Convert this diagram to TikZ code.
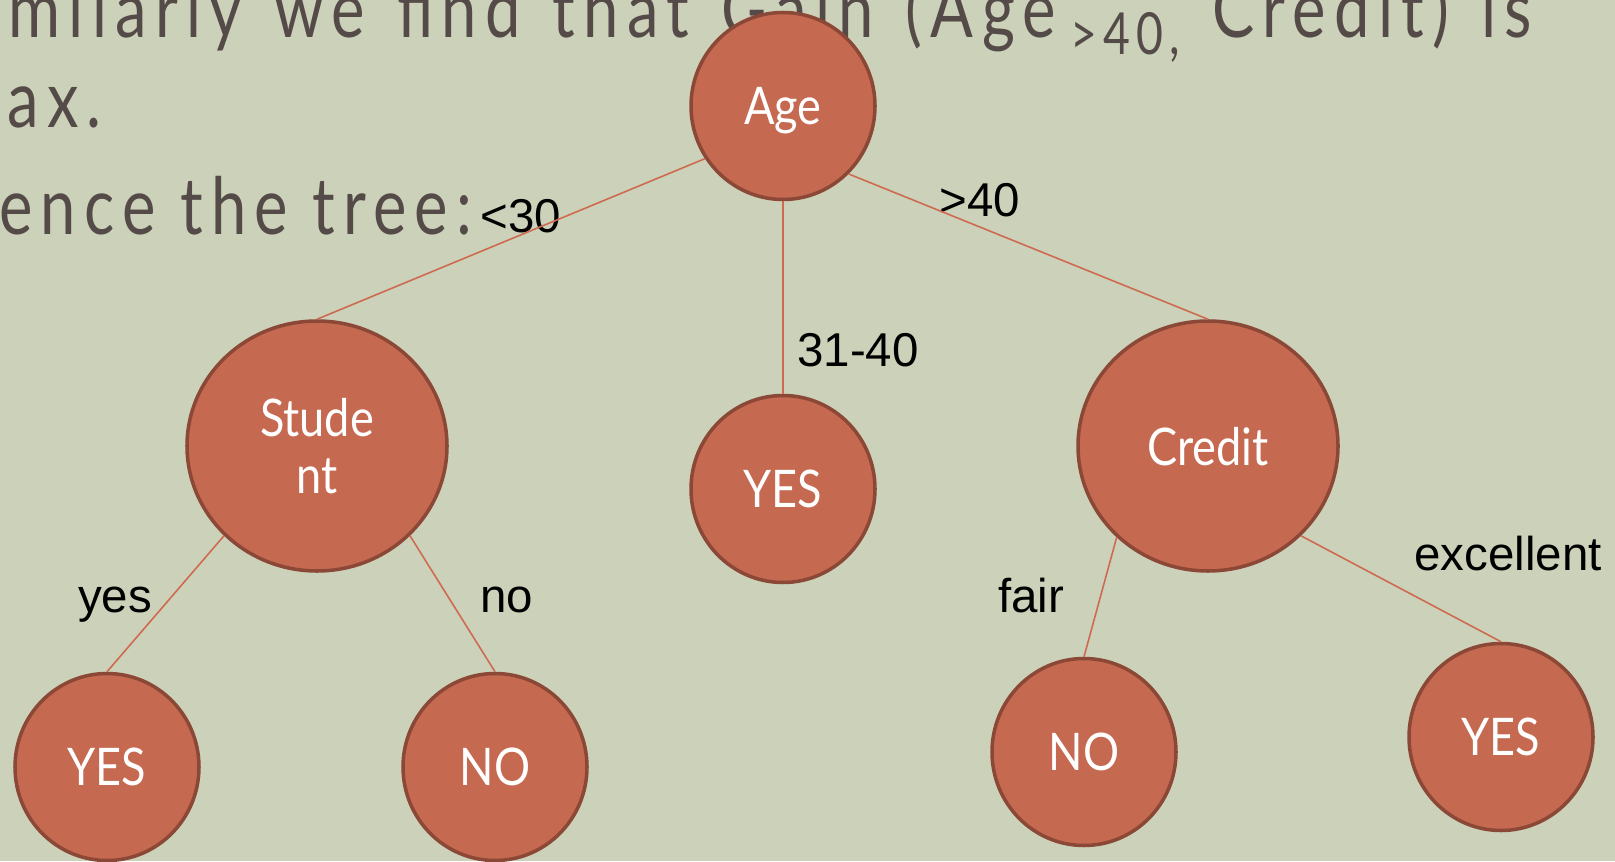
\documentclass[tikz,border=0pt]{standalone}
\usepackage{xcolor}
\usepackage{fontspec}
\usepackage{tikz}
\usetikzlibrary{shapes.geometric}
\newfontfamily\titlefont[FakeStretch = 0.8, LetterSpace = 10.5, WordSpace = 1.3]{Lato}
\newfontfamily\bulletfont[FakeStretch = 0.8, LetterSpace = 10.4]{Lato}
\newfontfamily\nodefont[FakeStretch = 0.87]{Lato}
\newfontfamily\branchfont{Liberation Sans}
\definecolor{slide}{RGB}{204,209,185}
\definecolor{nodefill}{RGB}{197,105,80}
\definecolor{nodeedge}{RGB}{140,72,55}
\definecolor{branch}{RGB}{205,106,80}
\definecolor{titletext}{RGB}{84,74,72}
\newcommand{\gainsub}[1]{\hspace{0.3cm}\raisebox{-9.6pt}{\fontsize{33}{36}\selectfont #1}}
\tikzset{
tree node/.style = { ellipse, draw = nodeedge, fill = nodefill, line width = 2pt, inner sep = 0pt, text = white, align = center, text depth = 0pt, font = \nodefont\fontsize{29.5}{32.4}\selectfont },
big node/.style = { tree node, minimum width = 5.2cm, minimum height = 5.0cm },
small node/.style = { tree node, minimum width = 3.68cm, minimum height = 3.74cm },
branch label/.style = { anchor = base, inner sep = 0pt, text = black, font = \branchfont\fontsize{27}{32}\selectfont },
title line/.style = { anchor = base west, inner sep = 0pt, text = titletext, font = \titlefont\fontsize{45}{54}\selectfont },
bullet line/.style = { title line, font = \bulletfont\fontsize{45}{54}\selectfont },
edge line/.style = { draw = branch, line width = 0.9pt },
}

\begin{document}
\begin{tikzpicture}
    \useasboundingbox (0, 0) rectangle (32.3, 17.22);
    \clip (0, 0) rectangle (32.3, 17.22);
    \fill[slide] (0, 0) rectangle (32.3, 17.22);
    % slide text behind the tree
    \node[title line] (line1) at (0.16, 16.46) {milarly we find that Gain (Age\gainsub{>40,}\ Credit) is};
    \node[title line] (line2) at (0.14, 14.66) {ax.};
    \node[bullet line] (line3) at (-0.02, 12.52) {ence the tree:};
    % tree
    \node[small node] (age) at (15.66, 15.10) {Age};
    \node[big node] (student) at (6.34, 8.30) {Stude\\nt};
    \node[small node] (yes mid) at (15.66, 7.44) {YES};
    \node[big node] (credit) at (24.16, 8.30) {Credit};
    \node[small node] (yes left) at (2.14, 1.88) {YES};
    \node[small node] (no left) at (9.90, 1.88) {NO};
    \node[small node] (no right) at (21.68, 2.18) {NO};
    \node[small node] (yes right) at (30.02, 2.48) {YES};
    \node[branch label] (lt30) at (10.42, 12.56) {<30};
    \node[branch label] (mid40) at (17.16, 9.90) {31-40};
    \node[branch label] (gt40) at (19.60, 12.88) {>40};
    \node[branch label] (lbl yes) at (2.30, 4.98) {yes};
    \node[branch label] (lbl no) at (10.14, 4.98) {no};
    \node[branch label] (lbl fair) at (20.62, 4.98) {fair};
    \node[branch label] (lbl exc) at (30.16, 5.82) {excellent};
    \draw[edge line] (age.214) -- (student.north);
    \draw[edge line] (age.south) -- (yes mid.north);
    \draw[edge line] (age.314) -- (credit.north);
    \draw[edge line] (student.224) -- (yes left.north);
    \draw[edge line] (student.316) -- (no left.north);
    \draw[edge line] (credit.225) -- (no right.north);
    \draw[edge line] (credit.316) -- (yes right.north);
\end{tikzpicture}
\end{document}
